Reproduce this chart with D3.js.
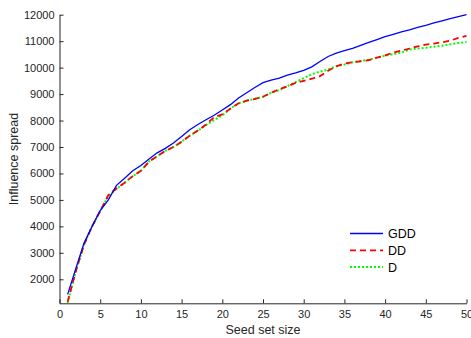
<!DOCTYPE html>
<html>
<head>
<meta charset="utf-8">
<script src="https://cdn.jsdelivr.net/npm/d3@7"></script>
<style>
  body { margin: 0; background: #fff; }
  text { font-family: "Liberation Sans", Arial, sans-serif; }
</style>
</head>
<body>
<div id="chart"></div>
<script>
// seed set sizes 1..50
const seeds = d3.range(1, 51);

const gdd = [1430, 2400, 3350, 4000, 4600, 5000, 5550, 5820, 6100, 6300,
             6550, 6780, 6950, 7150, 7400, 7650, 7850, 8030, 8200, 8400,
             8600, 8850, 9050, 9250, 9430, 9530, 9600, 9720, 9800, 9900,
             10030, 10230, 10420, 10550, 10640, 10730, 10840, 10950, 11060, 11170,
             11260, 11350, 11430, 11520, 11600, 11690, 11770, 11850, 11930, 12000];

const dd = [1150, 2300, 3300, 4000, 4580, 5180, 5430, 5650, 5900, 6100,
            6450, 6650, 6850, 7000, 7200, 7430, 7620, 7850, 8130, 8230,
            8450, 8650, 8750, 8820, 8900, 9050, 9180, 9290, 9420, 9500,
            9580, 9680, 9880, 10050, 10150, 10200, 10240, 10280, 10380, 10460,
            10570, 10640, 10720, 10800, 10870, 10910, 10960, 11020, 11120, 11200];

const dOnly = [1100, 2300, 3300, 4000, 4580, 5150, 5420, 5650, 5900, 6100,
               6450, 6650, 6850, 7000, 7200, 7430, 7620, 7830, 8020, 8200,
               8450, 8650, 8750, 8820, 8900, 9050, 9150, 9300, 9450, 9600,
               9750, 9850, 9930, 10050, 10120, 10200, 10250, 10300, 10380, 10450,
               10510, 10570, 10680, 10720, 10750, 10790, 10830, 10880, 10930, 10970];

const xTicks = [0, 5, 10, 15, 20, 25, 30, 35, 40, 45, 50];
const yTicks = [2000, 3000, 4000, 5000, 6000, 7000, 8000, 9000, 10000, 11000, 12000];

const series = [
  { name: "GDD", values: gdd, color: "#0000ff", width: 1.3, dash: null },
  { name: "DD", values: dd, color: "#ff0000", width: 1.8, dash: "6,4" },
  { name: "D", values: dOnly, color: "#00ff00", width: 2, dash: "2,2" }
];

const W = 471, H = 338;
const plot = { left: 59.5, right: 466.5, top: 14.7, bottom: 303.3 };

const svg = d3.select("#chart").append("svg")
    .attr("width", W)
    .attr("height", H);

const x = d3.scaleLinear().domain([0, 50]).range([plot.left, plot.right]);
const y = d3.scaleLinear().domain([1093, 12000]).range([plot.bottom, plot.top]);

const axisColor = "#262626";

const xAxis = svg.append("g")
    .attr("transform", `translate(0,${plot.bottom})`)
    .call(d3.axisBottom(x).tickValues(xTicks).tickSizeInner(-4).tickSizeOuter(0).tickPadding(7));

const yAxis = svg.append("g")
    .attr("transform", `translate(${plot.left},0)`)
    .call(d3.axisLeft(y).tickValues(yTicks).tickFormat(d3.format("d")).tickSizeInner(-4).tickSizeOuter(0).tickPadding(5));

[xAxis, yAxis].forEach(g => {
  g.select(".domain").attr("stroke", axisColor).attr("stroke-width", 1);
  g.selectAll(".tick line").attr("stroke", axisColor);
  g.selectAll(".tick text")
    .attr("fill", axisColor)
    .style("font-size", "11px")
    .style("font-family", "'Liberation Sans', Arial, sans-serif");
});

svg.append("text")
    .attr("x", (plot.left + plot.right) / 2)
    .attr("y", 334)
    .attr("text-anchor", "middle")
    .attr("fill", axisColor)
    .style("font-size", "12.5px")
    .text("Seed set size");

svg.append("text")
    .attr("transform", `translate(18,${(plot.top + plot.bottom) / 2}) rotate(-90)`)
    .attr("text-anchor", "middle")
    .attr("fill", axisColor)
    .style("font-size", "12.5px")
    .text("Influence spread");

const line = d3.line()
    .x((d, i) => x(seeds[i]))
    .y(d => y(d));

svg.selectAll(".series")
  .data(series.slice().reverse())
  .enter().append("path")
    .attr("class", "series")
    .attr("d", d => line(d.values))
    .attr("fill", "none")
    .attr("stroke", d => d.color)
    .attr("stroke-width", d => d.width)
    .attr("stroke-dasharray", d => d.dash);

// legend
const legend = svg.append("g");
series.forEach((s, i) => {
  const ly = 233.5 + i * 16.8;
  legend.append("line")
      .attr("x1", 350).attr("x2", 383)
      .attr("y1", ly).attr("y2", ly)
      .attr("stroke", s.color)
      .attr("stroke-width", s.width)
      .attr("stroke-dasharray", s.dash);
  legend.append("text")
      .attr("x", 388)
      .attr("y", ly + 4.5)
      .attr("fill", "#000")
      .style("font-size", "12.5px")
      .text(s.name);
});
</script>
</body>
</html>
